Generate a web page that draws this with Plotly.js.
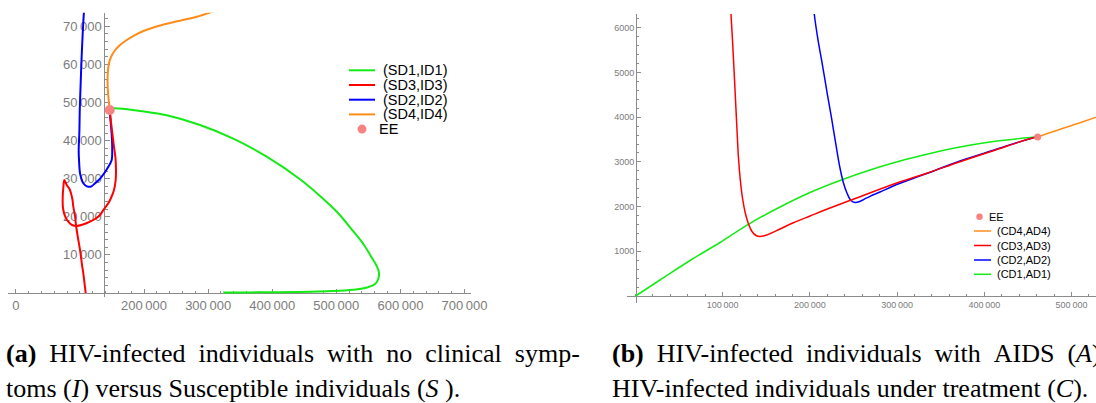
<!DOCTYPE html>
<html>
<head>
<meta charset="utf-8">
<script src="https://cdn.plot.ly/plotly-3.0.1.min.js"></script>
<style>
html,body{margin:0;padding:0;background:#ffffff;}
#chart{width:1096px;height:403px;}
</style>
</head>
<body>
<div id="chart"></div>
<script>
// ---------------- Panel (a): I versus S ----------------
const S_D1 = [146500,170400,193800,235400,287400,339300,391400,443400,474600,502600,526000,543200,555700,563000,566600,565500,559800,546300,526000,494800,443400,365400,323700];
const I_D1 = [48560,48300,47780,46650,44100,40500,35780,29850,25460,21000,16280,12600,9190,7090,5380,3680,2280,1370,840,500,260,160,100];

const S_D2 = [107200,106400,104400,102500,101200,99800,99100,98100,98600,100200,102500,105300,108700,113100,118100,123600,129000,134000,139200,144300,149600,150400,150100,148800,147400,146500];
const I_D2 = [74810,73840,68170,61160,55030,48040,41920,37540,34910,31420,29930,28800,28220,27900,28010,28800,29580,30530,31760,33150,34910,37540,40160,43310,45940,48040];

const S_D3 = [146500,148500,150900,153200,155500,156300,155800,153200,148500,144300,137600,131400,123600,115800,104800,95000,87700,81900,76800,73600,73200,74100,75700,79400,83800,86100,88500,89700,92400,93900,97000,100200,103300,105300,109000];
const I_D3 = [48040,44890,41480,38330,35440,32290,29660,27040,24940,23550,22050,20480,19430,18720,17980,17590,17850,18720,20210,22310,25280,27560,29660,28350,27300,26170,24410,22650,20210,17850,14440,11290,7350,5170,0];

const S_D4 = [146500,144300,143200,143500,145100,148500,154000,161800,171900,184400,199200,217200,237400,260800,282400,302900,315400];
const I_D4 = [48040,51710,54860,57750,60110,61950,63530,64970,66280,67590,68780,69830,70740,71660,72500,73630,74420];

const S_EE = [146500];
const I_EE = [48040];

const namesA = ['(SD1,ID1)','(SD3,ID3)','(SD2,ID2)','(SD4,ID4)','EE'];
const tickValsAx = [0,200000,300000,400000,500000,600000,700000];
const tickValsAy = [10000,20000,30000,40000,50000,60000,70000];

// ---------------- Panel (b): A versus C ----------------
const C_D1 = [0,28100,62500,96900,129000,165700,200100,234500,268900,303300,337700,372100,406500,440900,461200];
const A_D1 = [0,358,794,1197,1599,1991,2315,2584,2819,3020,3188,3333,3445,3523,3560];

const C_D2 = [204100,205000,209300,214400,219600,224800,229900,234500,238500,242500,247100,251700,256300,262000,268900,280400,295600,334000,372100,410300,456200,461200];
const A_D2 = [6510,6308,5727,5167,4563,3982,3378,2863,2528,2304,2136,2092,2107,2163,2230,2326,2461,2740,3020,3259,3541,3555];

const C_D3 = [108900,109500,111200,113000,114700,116400,118100,120200,122700,125900,129600,133600,138200,142800,150500,165700,181000,200100,219300,257500,295600,334000,372100,410300,456200,461200];
const A_D3 = [6510,6308,5727,5056,4385,3713,3087,2595,2192,1857,1611,1443,1353,1329,1365,1499,1640,1790,1940,2221,2499,2745,3004,3251,3541,3555];

const C_D4 = [461200,467600,509700,545000];
const A_D4 = [3555,3602,3877,4107];

const C_EE = [461200];
const A_EE = [3555];

const namesB = ['EE','(CD4,AD4)','(CD3,AD3)','(CD2,AD2)','(CD1,AD1)'];
const tickValsBx = [100000,200000,300000,400000,500000];
const tickValsBy = [1000,2000,3000,4000,5000,6000];

// ---------------- captions ----------------
const NB = '\u00a0';
const captionA1 = '<b>(a)</b> ' + NB + 'HIV-infected ' + NB + 'individuals ' + NB + 'with ' + NB + 'no ' + NB + 'clinical ' + NB + 'symp-';
const captionA2 = 'toms (<i>I</i>) versus Susceptible individuals (<i>S</i> ).';
const captionB1 = '<b>(b)</b> ' + NB + 'HIV-infected ' + NB + 'individuals ' + NB + 'with ' + NB + 'AIDS ' + NB + '(<i>A</i>)';
const captionB2 = 'HIV-infected individuals under treatment (<i>C</i>).';

// ---------------- styling ----------------
const W = 1096, H = 403;
const fx = p => p / W;
const fy = p => 1 - p / H;
const GREEN = '#14eb14', RED = '#ff0000', BLUE = '#0000ff', ORANGE = '#ff8c1a', PINK = '#f78282';
const AXIS = '#8c8c8c', TICKC = '#7c7c7c';
const SANS = 'Liberation Sans, Arial, sans-serif';
const SERIF = 'Liberation Serif, Times New Roman, serif';

function line(x, y, name, color, w, xa, ya) {
  return {type:'scatter', mode:'lines', x:x, y:y, name:name, xaxis:xa, yaxis:ya,
          line:{color:color, width:w, shape:'spline', smoothing:1}, hoverinfo:'skip', showlegend:false};
}
function dot(x, y, name, size, xa, ya) {
  return {type:'scatter', mode:'markers', x:x, y:y, name:name, xaxis:xa, yaxis:ya,
          marker:{color:PINK, size:size}, hoverinfo:'skip', showlegend:false, cliponaxis:false};
}

const traces = [
  line(S_D1, I_D1, namesA[0], GREEN, 2, 'x', 'y'),
  line(S_D2, I_D2, namesA[2], BLUE, 2, 'x', 'y'),
  line(S_D3, I_D3, namesA[1], RED, 2, 'x', 'y'),
  line(S_D4, I_D4, namesA[3], ORANGE, 2, 'x', 'y'),
  dot(S_EE, I_EE, namesA[4], 10, 'x', 'y'),
  line(C_D1, A_D1, namesB[4], GREEN, 1.5, 'x2', 'y2'),
  line(C_D2, A_D2, namesB[3], BLUE, 1.5, 'x2', 'y2'),
  line(C_D3, A_D3, namesB[2], RED, 1.5, 'x2', 'y2'),
  line(C_D4, A_D4, namesB[1], ORANGE, 1.5, 'x2', 'y2'),
  dot(C_EE, A_EE, namesB[0], 7, 'x2', 'y2')
];

function axis(extra) {
  return Object.assign({showgrid:false, zeroline:false, showline:true, linecolor:AXIS, linewidth:1,
    ticks:'inside', tickcolor:AXIS, tickwidth:1, layer:'below traces', automargin:false,
    fixedrange:true, tickmode:'array'}, extra);
}

// custom legends (compact Mathematica-style rows)
const shapes = [], annotations = [];
function addLegend(names, colors, kinds, cfg) {
  names.forEach((n, i) => {
    const yy = cfg.rows[i];
    if (kinds[i] === 'dot') {
      const r = cfg.dot / 2;
      shapes.push({type:'circle', xref:'paper', yref:'paper', x0:fx(cfg.dotX - r), x1:fx(cfg.dotX + r),
        y0:fy(yy + r), y1:fy(yy - r), fillcolor:PINK, line:{width:0}});
      annotations.push({xref:'paper', yref:'paper', x:fx(cfg.eeTextX), y:fy(yy), xanchor:'left', yanchor:'middle',
        text:n, showarrow:false, borderpad:0, borderwidth:0, font:{family:SANS, size:cfg.size, color:'#000'}});
    } else {
      shapes.push({type:'line', xref:'paper', yref:'paper', x0:fx(cfg.lineX0), x1:fx(cfg.lineX1),
        y0:fy(yy), y1:fy(yy), line:{color:colors[i], width:cfg.lw}});
      annotations.push({xref:'paper', yref:'paper', x:fx(cfg.textX), y:fy(yy), xanchor:'left', yanchor:'middle',
        text:n, showarrow:false, borderpad:0, borderwidth:0, font:{family:SANS, size:cfg.size, color:'#000'}});
    }
  });
}
addLegend(namesA, [GREEN, RED, BLUE, ORANGE, PINK], ['line','line','line','line','dot'],
  {rows:[70.3, 85, 99.7, 114.4, 129.1], lineX0:349, lineX1:375, textX:383, eeTextX:379, dotX:362, dot:9, size:14.5, lw:2});
addLegend(namesB, [PINK, ORANGE, RED, BLUE, GREEN], ['dot','line','line','line','line'],
  {rows:[216.7, 231, 245.5, 260, 274.3], lineX0:974, lineX1:991, textX:997, eeTextX:989, dotX:979.5, dot:6.5, size:11, lw:1.5});

function caption(text, xp, yp) {
  annotations.push({xref:'paper', yref:'paper', x:fx(xp), y:fy(yp), xanchor:'left', yanchor:'middle',
    text:text, showarrow:false, borderpad:0, borderwidth:0, align:'left',
    font:{family:SERIF, size:26, color:'#000'}});
}
caption(captionA1, 6, 353);
caption(captionA2, 6, 388);
caption(captionB1, 612, 353);
caption(captionB2, 612, 388);

const layout = {
  width:W, height:H,
  margin:{l:0, r:0, t:0, b:0, pad:0},
  paper_bgcolor:'#ffffff', plot_bgcolor:'rgba(0,0,0,0)',
  showlegend:false,
  separators:'.\u2009',
  font:{family:SANS},
  xaxis: axis({domain:[fx(8), fx(471)], range:[(8-15.8)*1560, (471-15.8)*1560],
    anchor:'free', position:fy(293), tickvals:tickValsAx, tickformat:',d', ticklen:4,
    tickfont:{family:SANS, size:13, color:TICKC},
    minor:{ticks:'inside', tickmode:'linear', dtick:20000, tick0:0, ticklen:2, tickcolor:AXIS, showgrid:false}}),
  yaxis: axis({domain:[fy(297), fy(12.7)], range:[(293-297)*262.5, (293-12.7)*262.5],
    anchor:'free', position:fx(104.3), tickvals:tickValsAy, tickformat:',d', ticklen:5,
    tickfont:{family:SANS, size:13, color:TICKC},
    minor:{ticks:'inside', tickmode:'linear', dtick:2000, tick0:0, ticklen:2.5, tickcolor:AXIS, showgrid:false}}),
  xaxis2: axis({domain:[fx(627), 1], range:[(627-635.5)*1146.8, (1096-635.5)*1146.8],
    anchor:'free', position:fy(296), tickvals:tickValsBx, tickformat:',d', ticklen:4,
    tickfont:{family:SANS, size:9, color:TICKC},
    minor:{ticks:'inside', tickmode:'linear', dtick:20000, tick0:0, ticklen:2, tickcolor:AXIS, showgrid:false}}),
  yaxis2: axis({domain:[fy(302.7), fy(14)], range:[(296-302.7)*22.37, (296-14)*22.37],
    anchor:'free', position:fx(636), tickvals:tickValsBy, tickformat:'d', ticklen:4,
    tickfont:{family:SANS, size:9, color:TICKC},
    minor:{ticks:'inside', tickmode:'linear', dtick:200, tick0:0, ticklen:2, tickcolor:AXIS, showgrid:false}}),
  shapes:shapes,
  annotations:annotations
};

Plotly.newPlot('chart', traces, layout, {staticPlot:true, displayModeBar:false, responsive:false});
</script>
</body>
</html>
